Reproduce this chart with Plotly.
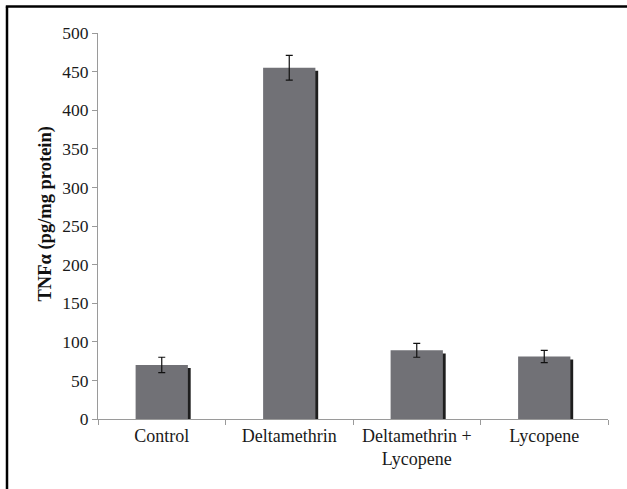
import plotly.graph_objects as go

categories = ["Control", "Deltamethrin", "Deltamethrin +<br>Lycopene", "Lycopene"]
values = [70, 455, 89, 81]
errors = [10, 16, 9, 8]
y_ticks = [0, 50, 100, 150, 200, 250, 300, 350, 400, 450, 500]

W, H = 627, 489
ML, MR, MT, MB = 98, 19, 33, 70
pw = W - ML - MR
ph = H - MT - MB

bar_w = 0.41
shadow_shift = 0.022
shadow_drop = 4

fig = go.Figure()
fig.add_trace(go.Bar(
    x=categories, y=[v - shadow_drop for v in values],
    width=bar_w, offset=-bar_w / 2 + shadow_shift,
    marker=dict(color="#1e1e1e", line=dict(width=0)),
    hoverinfo="skip", showlegend=False,
))
fig.add_trace(go.Bar(
    x=categories, y=values,
    width=bar_w, offset=-bar_w / 2,
    marker=dict(color="#717176", line=dict(width=0)),
    error_y=dict(type="data", array=errors, visible=True, color="#111111", thickness=1.2, width=3.5),
    showlegend=False,
))

font = "Liberation Serif"
fig.update_layout(
    width=W, height=H,
    margin=dict(l=ML, r=MR, t=MT, b=MB),
    paper_bgcolor="white", plot_bgcolor="white",
    barmode="overlay",
    font=dict(family=font, size=18, color="#1a1a1a"),
    xaxis=dict(
        type="category", tickson="boundaries", ticks="outside", ticklen=5,
        tickcolor="#9a9a9a", showline=True, linecolor="#9a9a9a", linewidth=1.2,
        showgrid=False, range=[-0.5, 3.5],
        tickfont=dict(family=font, size=18, color="#1a1a1a"),
    ),
    yaxis=dict(
        range=[0, 500], tickvals=y_ticks, ticks="outside", ticklen=5,
        tickcolor="#9a9a9a", showline=True, linecolor="#9a9a9a", linewidth=1.2,
        showgrid=False, zeroline=False,
        tickfont=dict(family=font, size=17.5, color="#1a1a1a"),
    ),
    annotations=[dict(
        text="<b>TNFα (pg/mg protein)</b>", textangle=-90,
        xref="paper", yref="paper",
        x=(44.5 - ML) / pw, y=(H - MB - 214) / ph,
        xanchor="center", yanchor="middle", showarrow=False,
        font=dict(family=font, size=18.5, color="#111111"),
    )],
    shapes=[
        dict(type="line", xref="paper", yref="paper",
             x0=(7 - ML) / pw, x1=(7 - ML) / pw,
             y0=(H - MB - 6.5) / ph, y1=(H - MB - 495) / ph,
             line=dict(color="black", width=2.5)),
        dict(type="line", xref="paper", yref="paper",
             x0=(5.8 - ML) / pw, x1=(640 - ML) / pw,
             y0=(H - MB - 6.5) / ph, y1=(H - MB - 6.5) / ph,
             line=dict(color="black", width=2.5)),
    ],
)

fig.write_html(
    "out.html",
    config={"displayModeBar": False},
    post_script="document.body.style.margin='0';document.body.style.overflow='hidden';",
)
